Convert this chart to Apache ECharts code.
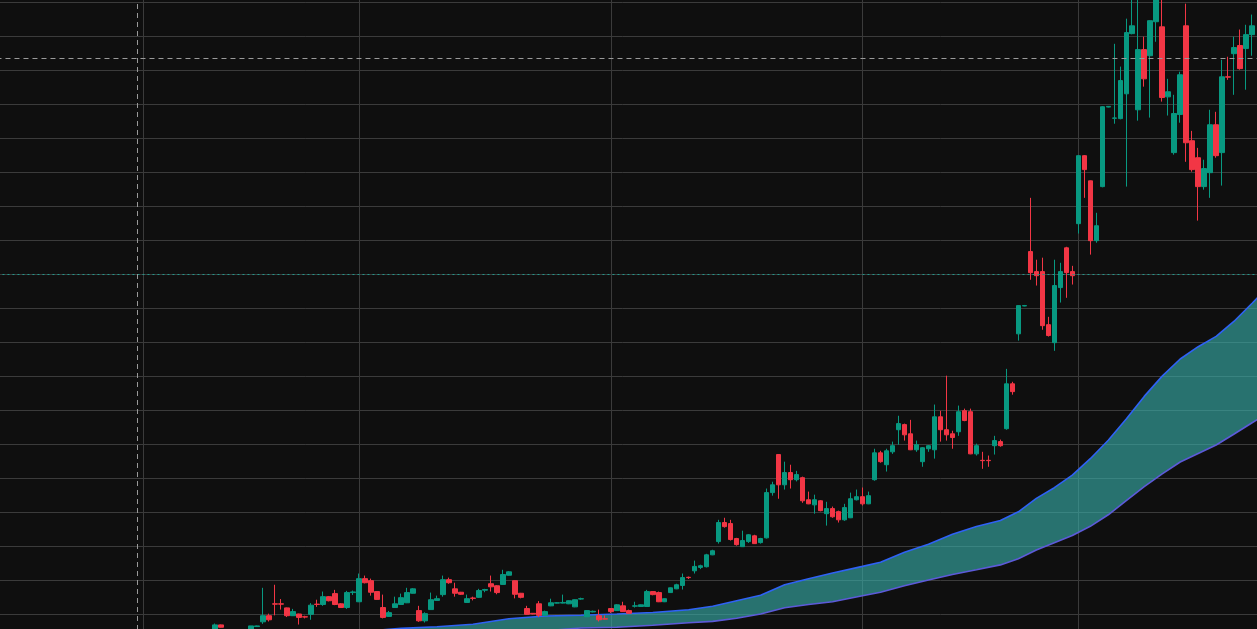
<!DOCTYPE html>
<html>
<head>
<meta charset="utf-8">
<script src="https://cdn.jsdelivr.net/npm/echarts@6/dist/echarts.min.js"></script>
<style>
html,body{margin:0;padding:0;background:#0f0f0f;overflow:hidden;width:1257px;height:629px;position:relative;}
#chart{position:absolute;left:-20px;top:-31.7px;width:1300px;height:700px;}
</style>
</head>
<body>
<div id="chart"></div>
<script>
// ---- data ----
const slotCount = 209;            // bar slots in view (slot 0 = left edge)
const firstCandle = 35;           // first slot whose candle is in view

// [open, close, low, high], slots 35..208 (null = below the visible range)
const ohlc = [
  [4.8,6.8,4.2,7.2],[6.8,6.1,6.0,6.9],null,null,null,null,
  [5.1,6.5,4.8,6.5],[6.3,6.5,6.2,6.6],[7.7,9.5,7.1,17.7],[9.5,8.3,7.8,10.1],
  [13.0,12.9,9.6,18.6],[13.0,12.9,11.3,14.4],[11.8,9.5,9.1,11.9],[9.5,10.7,9.4,11.5],
  [10.0,9.0,6.9,10.1],[9.2,9.1,8.7,9.5],[9.9,12.6,8.3,13.2],[12.9,12.8,12.1,14.2],
  [12.8,15.1,12.4,16.6],[15.1,13.9,13.7,15.3],[16.0,12.8,12.6,17.1],[13.0,11.9,11.8,13.2],
  [11.9,16.3,11.5,16.8],[16.3,16.5,15.6,16.9],[13.6,20.4,13.5,21.9],[20.4,19.2,19.0,21.3],
  [19.8,16.4,15.4,20.4],[16.6,14.3,14.2,16.7],[11.9,9.0,8.7,15.7],[9.3,10.4,9.2,10.9],
  [11.9,13.0,11.8,15.1],[12.8,14.8,12.7,16.0],[13.3,16.3,13.2,17.7],[16.1,17.4,16.0,17.6],
  [11.0,8.0,7.7,12.4],[8.0,10.1,7.5,10.5],[11.3,14.2,11.2,16.3],[14.0,14.5,13.9,15.4],
  [15.7,20.1,15.1,21.3],[20.1,19.2,18.9,20.7],[17.4,16.1,15.1,19.2],[16.4,15.8,15.6,16.5],
  [13.4,14.5,13.3,15.7],[14.7,14.6,14.0,15.1],[14.9,16.9,14.7,17.4],[17.0,17.2,16.4,17.4],
  [18.9,18.0,16.6,21.3],[18.3,16.3,15.8,18.5],[18.7,21.6,18.6,23.0],[21.4,22.4,21.3,22.6],
  [19.8,15.8,14.6,19.9],[16.1,14.9,14.6,16.2],[11.6,9.9,9.8,12.4],[10.2,10.0,9.9,10.3],
  [13.0,9.6,9.1,13.8],[9.6,10.7,9.5,11.0],[12.4,13.3,12.3,14.5],[13.2,13.3,13.1,13.5],
  [13.2,13.4,13.1,15.7],[13.0,13.9,12.9,14.0],[12.1,14.2,12.0,14.3],[14.4,14.5,14.2,14.8],
  [9.2,11.0,9.1,11.1],[10.6,10.8,10.5,11.0],[9.5,8.3,7.8,11.3],[8.6,8.5,8.4,9.6],
  [11.6,10.7,10.3,11.7],[11.0,12.7,10.9,12.9],[12.4,10.7,10.6,13.6],[11.0,10.2,10.0,11.3],
  [12.3,12.4,11.9,13.6],[12.2,12.7,12.1,12.8],[12.2,16.6,12.1,17.1],[16.6,15.7,15.5,16.7],
  [16.3,13.6,13.5,16.6],[13.6,14.5,13.5,14.6],[16.3,17.7,16.2,17.8],[17.4,18.6,17.3,18.9],
  [18.4,20.7,17.2,21.9],[20.8,20.7,20.3,21.0],[22.7,24.0,21.9,25.7],[23.7,24.2,23.2,24.5],
  [23.9,27.4,23.7,27.7],[27.4,28.6,27.3,28.9],[31.3,36.9,30.7,37.7],[36.9,35.7,35.4,38.3],
  [36.6,31.9,31.6,37.7],[32.2,30.4,30.1,32.4],[29.8,31.6,29.7,34.5],[31.3,33.3,30.9,33.5],
  [33.0,30.7,30.6,33.3],[31.0,32.2,30.7,32.4],[32.4,45.7,32.2,46.9],[45.7,48.0,44.8,48.9],
  [56.9,48.0,43.9,57.0],[48.0,51.6,46.6,54.8],[51.6,49.5,46.9,53.9],[49.5,51.0,49.0,52.1],
  [50.1,43.3,42.7,50.4],[43.6,42.4,42.3,46.0],[42.1,43.6,39.5,45.1],[43.3,40.4,40.2,43.5],
  [39.5,41.0,36.0,43.0],[41.0,38.6,38.3,41.6],[40.1,37.7,36.9,40.4],[37.7,41.3,37.4,42.4],
  [38.3,43.9,38.2,45.7],[43.6,44.5,43.4,46.6],[44.5,42.4,41.9,47.2],[42.4,44.8,42.3,46.0],
  [49.5,57.4,49.2,58.6],[57.4,54.8,54.5,58.0],[53.9,58.0,51.9,58.6],[57.7,59.5,57.1,60.7],
  [64.2,66.0,59.8,68.3],[65.7,62.7,61.0,66.0],[63.0,58.3,58.2,67.1],[58.3,59.8,57.7,61.0],
  [54.8,58.9,53.3,59.1],[58.6,59.5,57.7,59.7],[58.3,68.0,55.7,71.6],[68.0,64.2,60.7,69.8],
  [64.2,62.7,61.0,80.1],[63.0,61.9,58.6,63.9],[63.6,69.5,62.4,71.3],[69.8,66.9,66.7,70.4],
  [69.5,57.1,57.0,70.4],[57.1,59.5,56.6,60.1],[55.2,55.1,52.7,57.7],[55.2,55.1,53.3,56.6],
  [59.5,61.0,56.9,62.4],[60.7,59.5,59.2,61.3],[64.5,77.7,64.2,82.1],[77.7,75.4,74.5,78.3],
  [92.4,100.7,90.4,100.8],[100.6,100.7,100.5,100.9],[116.6,110.4,108.3,132.4],[110.7,109.5,106.6,114.2],
  [110.7,94.8,93.6,114.8],[95.1,91.9,91.6,97.4],[89.8,106.6,87.4,114.2],[106.0,110.7,101.6,113.3],
  [117.7,110.4,103.0,118.0],[110.7,109.5,106.9,112.4],[124.8,144.8,121.9,144.9],[144.8,140.7,132.4,145.0],
  [137.4,119.8,115.7,137.5],[119.8,124.2,119.2,128.0],[135.7,159.2,135.5,159.4],[159.1,159.3,159.0,159.4],
  [155.8,155.9,154.2,177.7],[155.7,166.9,155.5,171.0],[163.0,181.0,135.7,185.1],[180.7,183.0,180.5,192.0],
  [158.3,176.0,155.1,192.5],[176.0,167.4,165.1,179.8],[174.2,184.5,156.0,184.6],[184.2,193.0,178.3,194.0],
  [182.7,161.9,160.7,192.0],[162.1,163.6,156.6,167.4],[145.7,157.2,145.1,162.7],[156.9,168.6,154.5,169.5],
  [183.0,148.6,143.0,189.5],[149.2,140.7,140.1,152.1],[144.2,135.7,125.7,147.1],[135.7,141.0,134.8,143.6],
  [139.8,153.9,132.4,158.3],[153.9,144.8,144.2,157.7],[145.7,168.0,136.0,173.0],[168.0,167.9,167.1,173.9],
  [174.8,176.6,162.7,179.8],[177.2,170.4,170.1,181.9],[176.3,180.4,164.2,183.3],[180.4,183.0,174.2,186.3]
];

// band (upper / lower lines) read at these slots (209 = one slot past the last candle)
const bandSlots = [60,66,72,78,84,90,96,102,108,114,118,122,126,130,134,138,143,146,150,154,158,162,166,169,172,175,178,181,184,187,190,193,196,199,202,205,208,209];
const bandUpper = [4.94,5.76,6.26,7.0,8.62,9.41,9.65,10.0,10.44,11.26,12.29,13.91,15.53,18.62,20.38,22.06,24.0,25.24,28.18,30.53,33.47,35.74,37.5,40.06,44.0,47.15,50.82,55.68,61.12,67.35,74.0,79.97,85.0,88.62,91.65,96.12,101.41,103.2];
const bandLower = [0.97,1.56,2.15,3.03,3.91,5.09,5.88,6.12,6.71,7.44,7.82,8.76,10.0,11.85,12.79,13.62,15.38,16.41,18.32,20.0,21.62,23.0,24.44,26.24,28.82,30.97,33.09,35.79,39.18,43.32,47.44,51.21,54.71,57.21,59.71,62.94,66.26,67.3];

const timeGridSlots = [23, 59, 101, 143, 179];
const crosshairSlot = 22;
const crosshairPrice = 173.5;
const priceLineValue = 110;
const yMin = 0, yMax = 200, yStep = 10;

// ---- chart ----
const padLeft = 3, padRight = 1;            // off-screen slots so the grid reaches the edges
const totalSlots = padLeft + slotCount + padRight;
const categories = Array.from({length: totalSlots}, (_, i) => 'Bar ' + (i + 1 - padLeft));
const candleData = Array(padLeft + firstCandle).fill('-')
  .concat(ohlc.map(r => r === null ? '-' : r))
  .concat(Array(padRight).fill('-'));
const xs = bandSlots.map(s => s + padLeft);
const upperData = xs.map((s, k) => [s, bandUpper[k]]);
const lowerData = xs.map((s, k) => [s, bandLower[k]]);
const gridSlots = timeGridSlots.map(s => s + padLeft);

const chart = echarts.init(document.getElementById('chart'), null, {renderer: 'canvas'});
const gridColor = '#3b3b3b';
const crossStyle = {color: '#9a9a9a', width: 1, type: [5, 4]};

chart.setOption({
  animation: false,
  backgroundColor: '#0f0f0f',
  grid: {left: 7.47, right: 21.89, top: 0, bottom: 20, containLabel: false},
  xAxis: [
    {
      type: 'category', data: categories, boundaryGap: false,
      axisLine: {show: false}, axisTick: {show: false}, axisLabel: {show: false},
      splitLine: {show: true, interval: (idx) => gridSlots.includes(idx),
                  lineStyle: {color: gridColor, width: 1}}
    },
    {
      type: 'value', min: 0, max: totalSlots - 1, show: false,
      splitLine: {show: false}
    }
  ],
  yAxis: {
    type: 'value', min: yMin, max: yMax, interval: yStep,
    axisLine: {show: false}, axisTick: {show: false}, axisLabel: {show: false},
    splitLine: {show: true, lineStyle: {color: gridColor, width: 1}}
  },
  series: [
    {
      name: 'Band fill', type: 'custom', xAxisIndex: 1, z: 1, silent: true,
      data: xs.map((s, k) => [s, bandUpper[k], bandLower[k]]),
      encode: {x: 0, y: [1, 2]},
      renderItem: (params, api) => {
        if (params.dataIndex !== 0) return null;
        const top = upperData.map(p => api.coord(p));
        const bottom = lowerData.slice().reverse().map(p => api.coord(p));
        return {type: 'polygon', shape: {points: top.concat(bottom)},
                style: {fill: 'rgba(56,180,175,0.6)'}};
      }
    },
    {
      name: 'Band lower', type: 'line', xAxisIndex: 1,
      data: lowerData, symbol: 'none', z: 2,
      lineStyle: {color: '#5c5ad8', width: 1.6}
    },
    {
      name: 'Band upper', type: 'line', xAxisIndex: 1,
      data: upperData, symbol: 'none', z: 2,
      lineStyle: {color: '#2f62f5', width: 1.6}
    },
    {
      name: 'Price', type: 'candlestick', xAxisIndex: 0,
      data: candleData, barWidth: 5, z: 3,
      itemStyle: {
        color: '#089981', color0: '#f23645',
        borderColor: '#089981', borderColor0: '#f23645', borderWidth: 1
      },
      markLine: {
        silent: true, symbol: ['none', 'none'], label: {show: false},
        emphasis: {disabled: true},
        data: [
          {yAxis: priceLineValue, lineStyle: {color: '#22978a', width: 1, type: [2, 3]}},
          {xAxis: categories[crosshairSlot + padLeft], lineStyle: crossStyle},
          {yAxis: crosshairPrice, lineStyle: crossStyle}
        ]
      }
    }
  ]
});
</script>
</body>
</html>
